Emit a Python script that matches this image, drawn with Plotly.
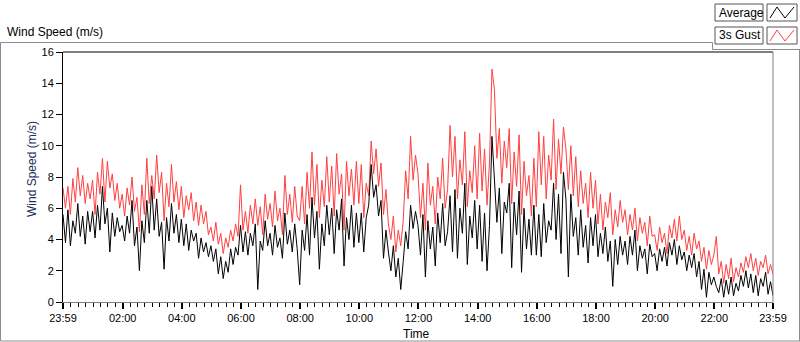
import pandas as pd
import plotly.graph_objects as go

# ---------------- data (5-minute samples, m/s) ----------------
gust = [
    7.3, 6.0, 7.4, 5.6, 7.9, 6.4, 8.6, 6.8, 8.1, 6.3, 7.6, 6.6,
    7.8, 5.6, 8.3, 6.9, 9.2, 6.4, 9.0, 7.3, 8.2, 6.5, 7.6, 6.0,
    6.9, 5.5, 7.3, 6.2, 8.0, 5.8, 6.7, 4.5, 7.5, 5.6, 9.2, 6.3,
    8.1, 6.6, 9.4, 7.0, 8.3, 5.2, 7.6, 6.1, 8.8, 6.4, 7.7, 5.9,
    7.4, 5.4, 6.8, 5.9, 7.0, 5.2, 6.4, 4.9, 6.2, 5.0, 5.8, 4.3,
    4.8, 3.9, 5.1, 3.7, 4.4, 3.1, 4.1, 3.5, 4.6, 3.9, 5.0, 4.2,
    7.5, 4.6, 5.8, 4.4, 6.2, 5.0, 6.6, 4.9, 6.1, 4.3, 6.9, 5.3,
    6.3, 4.8, 7.1, 5.2, 6.0, 4.3, 8.1, 5.6, 6.9, 5.1, 7.4, 5.5,
    5.2, 7.4, 5.0, 8.3, 6.0, 9.6, 6.2, 8.8, 5.4, 7.8, 6.1, 9.3,
    6.4, 8.7, 5.5, 9.5, 6.9, 8.2, 4.6, 9.0, 6.8, 8.5, 6.2, 9.0,
    6.3, 8.8, 5.4, 7.6, 6.8, 10.3, 8.2, 9.8, 7.4, 8.9, 5.6, 7.2,
    5.0, 4.0, 5.5, 3.2, 4.6, 3.6, 5.2, 8.4, 6.6, 10.6, 7.8, 9.4,
    8.2, 5.4, 7.6, 4.6, 8.9, 6.2, 7.4, 5.0, 8.0, 6.6, 9.2, 6.0,
    7.2, 11.3, 8.0, 10.6, 6.6, 9.1, 7.5, 10.9, 6.1, 8.4, 7.0, 10.0,
    6.6, 10.8, 7.1, 9.8, 6.2, 8.9, 14.9, 13.6, 9.2, 11.1, 7.6, 10.3,
    8.6, 11.1, 6.3, 9.6, 7.4, 10.7, 5.6, 9.0, 6.8, 8.1, 5.5, 9.2,
    6.1, 10.9, 7.5, 10.6, 6.6, 9.4, 7.8, 11.7, 7.2, 10.4, 8.2, 11.2,
    9.8, 7.2, 10.0, 6.8, 9.3, 6.1, 8.4, 6.3, 7.6, 5.4, 8.3, 6.0,
    7.8, 5.0, 6.9, 4.6, 6.4, 5.4, 7.0, 4.3, 5.9, 4.8, 6.5, 5.1,
    5.9, 4.3, 5.6, 4.6, 6.0, 3.9, 5.4, 4.4, 5.1, 3.6, 5.5, 4.2,
    4.3, 3.3, 4.8, 3.8, 4.4, 3.1, 4.9, 4.1, 5.3, 3.9, 5.5, 4.0,
    4.6, 3.3, 4.2, 3.0, 4.4, 3.4, 3.9, 2.6, 3.5, 2.1, 3.3, 2.4,
    3.0, 4.2, 1.8, 2.6, 1.2, 2.4, 1.5, 2.8, 1.3, 2.2, 1.6, 2.5,
    1.9, 2.9, 2.2, 3.1, 2.0, 2.8, 1.7, 2.6, 2.2, 3.0, 1.8, 2.4,
    1.8,
]

average = [
    5.6, 3.8, 5.9, 3.6, 5.2, 4.4, 6.3, 4.2, 5.5, 3.7, 5.8, 4.5,
    5.8, 4.1, 6.2, 4.6, 7.4, 5.0, 6.0, 3.2, 5.7, 4.2, 5.4, 4.5,
    4.9, 3.9, 5.5, 4.4, 6.5, 3.6, 4.8, 2.0, 5.2, 3.8, 6.5, 4.4,
    7.4, 4.6, 6.6, 4.2, 5.1, 2.1, 5.4, 3.9, 6.3, 4.4, 5.6, 3.8,
    5.3, 3.6, 5.0, 3.3, 4.6, 3.9, 4.4, 2.8, 4.1, 3.2, 3.8, 2.9,
    3.6, 2.6, 3.4, 1.8, 2.9, 1.5, 2.6, 1.9, 3.4, 2.4, 3.5, 3.0,
    4.9, 3.2, 4.5, 3.0, 4.4, 3.6, 5.0, 0.8, 3.9, 3.3, 5.2, 3.6,
    4.4, 3.0, 4.9, 3.5, 4.1, 2.8, 5.7, 3.7, 4.6, 3.2, 5.0, 3.4,
    1.1, 4.6, 3.3, 5.6, 3.0, 6.7, 4.1, 5.8, 2.1, 5.0, 3.6, 6.2,
    4.3, 6.0, 3.1, 5.9, 4.6, 6.6, 2.3, 5.4, 4.0, 6.2, 3.5, 5.7,
    3.8, 5.7, 3.2, 5.4, 6.2, 8.8, 6.7, 7.5, 5.5, 6.5, 2.8, 4.6,
    3.2, 2.0, 3.6, 1.6, 2.8, 0.8, 2.6, 4.5, 3.4, 6.2, 4.7, 5.8,
    4.9, 3.0, 5.6, 1.6, 5.2, 3.4, 4.8, 2.3, 5.7, 3.8, 6.3, 3.6,
    4.5, 6.8, 3.2, 7.2, 2.8, 6.0, 4.4, 7.6, 2.4, 5.5, 4.1, 6.5,
    3.4, 6.2, 2.6, 5.7, 2.0, 4.9, 10.6, 7.4, 5.1, 7.3, 3.1, 6.4,
    5.7, 7.6, 2.2, 6.4, 4.3, 7.1, 1.9, 6.0, 3.4, 5.3, 3.0, 6.2,
    3.0, 5.6, 2.9, 6.3, 3.8, 5.2, 4.6, 7.6, 4.0, 6.9, 3.1, 8.3,
    6.6, 1.6, 6.9, 4.2, 5.4, 3.0, 5.9, 3.5, 4.9, 2.5, 5.4, 3.6,
    5.6, 2.9, 4.4, 3.1, 4.8, 2.6, 3.9, 1.0, 4.0, 2.4, 4.2, 3.0,
    3.9, 2.4, 4.2, 3.0, 4.6, 2.0, 3.6, 2.8, 3.4, 1.8, 3.7, 2.9,
    3.1, 2.0, 3.4, 2.6, 3.5, 2.3, 3.8, 3.0, 4.0, 2.4, 3.6, 2.7,
    3.2, 2.0, 3.0, 2.2, 3.1, 1.6, 2.6, 0.8, 2.1, 0.3, 1.9, 1.1,
    1.6, 1.0, 0.6, 1.5, 0.3, 1.4, 0.5, 1.6, 0.4, 1.2, 0.7, 1.7,
    1.0, 2.0, 0.9, 1.8, 0.6, 1.7, 0.4, 1.5, 1.0, 1.9, 0.5, 1.3,
    0.4,
]

start_time = "2024-01-01 23:59"
end_time = "2024-01-02 23:59"
tick_times = ["2024-01-01 23:59", "2024-01-02 02:00", "2024-01-02 04:00",
              "2024-01-02 06:00", "2024-01-02 08:00", "2024-01-02 10:00",
              "2024-01-02 12:00", "2024-01-02 14:00", "2024-01-02 16:00",
              "2024-01-02 18:00", "2024-01-02 20:00", "2024-01-02 22:00",
              "2024-01-02 23:59"]
tick_labels = ["23:59", "02:00", "04:00", "06:00", "08:00", "10:00", "12:00",
               "14:00", "16:00", "18:00", "20:00", "22:00", "23:59"]
y_ticks = [0, 2, 4, 6, 8, 10, 12, 14, 16]

time = pd.date_range(start_time, periods=len(gust), freq="5min")

# ---------------- geometry helpers ----------------
W, H = 800, 342
L, R, T, B = 63, 27, 52, 40
PW, PH = W - L - R, H - T - B
FONT = "Liberation Sans"


def px(x):
    return (x - L) / PW


def py(y):
    return (H - B - y) / PH


fig = go.Figure()
fig.add_trace(go.Scatter(x=time, y=gust, mode="lines", name="3s Gust",
                         line=dict(color="#ff4040", width=1)))
fig.add_trace(go.Scatter(x=time, y=average, mode="lines", name="Average",
                         line=dict(color="#000000", width=1)))

fig.update_layout(
    width=W, height=H,
    margin=dict(l=L, r=R, t=T, b=B, pad=0),
    paper_bgcolor="white", plot_bgcolor="white",
    showlegend=False,
    font=dict(family=FONT, size=11, color="black"),
    xaxis=dict(
        type="date", range=[start_time, end_time],
        tickmode="array", tickvals=tick_times, ticktext=tick_labels,
        ticks="outside", ticklen=6, tickwidth=2, tickcolor="black",
        showline=True, linecolor="#808080", linewidth=1,
        showgrid=False, zeroline=False,
        tickfont=dict(family=FONT, size=11, color="black"),
        minor=dict(tickmode="linear", tick0="2024-01-02 00:00", dtick=900000,
                   ticks="outside", ticklen=4, tickwidth=1, tickcolor="black",
                   showgrid=False),
    ),
    yaxis=dict(
        range=[0, 16], tickmode="array", tickvals=y_ticks,
        ticks="outside", ticklen=6, tickwidth=1, tickcolor="black",
        showline=True, linecolor="black", linewidth=1,
        showgrid=False, zeroline=False,
        tickfont=dict(family=FONT, size=11, color="black"),
    ),
)

shapes = []
gray = "#8c8c8c"
# plot area top (black) and right (gray) border
shapes.append(dict(type="line", xref="paper", yref="paper", x0=0, x1=1, y0=1, y1=1,
                   line=dict(color="black", width=1)))
shapes.append(dict(type="line", xref="paper", yref="paper", x0=1, x1=1, y0=0, y1=1,
                   line=dict(color="#808080", width=1)))
# outer frame
frame = [((0.5, 42.5), (712.5, 42.5)), ((712.5, 42.5), (712.5, 49.5)),
         ((712.5, 49.5), (800, 49.5)), ((0.5, 42.5), (0.5, 341)),
         ((0.5, 341), (800, 341)), ((799.5, 49.5), (799.5, 341))]
for (xa, ya), (xb, yb) in frame:
    shapes.append(dict(type="line", xref="paper", yref="paper",
                       x0=px(xa), y0=py(ya), x1=px(xb), y1=py(yb),
                       line=dict(color=gray, width=1)))

# legend boxes
legend_items = [("Average", "#000000", 4), ("3s Gust", "#ff4040", 27)]
annotations = []
for label, color, top in legend_items:
    bot = top + 17
    shapes.append(dict(type="rect", xref="paper", yref="paper",
                       x0=px(715), x1=px(763), y0=py(bot), y1=py(top),
                       line=dict(color="#555555", width=1), fillcolor="white"))
    shapes.append(dict(type="rect", xref="paper", yref="paper",
                       x0=px(767), x1=px(797), y0=py(bot), y1=py(top),
                       line=dict(color="#555555", width=1), fillcolor="white"))
    pts = [(770, bot - 3), (777, top + 3), (785, bot - 3), (794, top + 3)]
    path = "M " + " L ".join(f"{px(a):.5f} {py(b):.5f}" for a, b in pts)
    shapes.append(dict(type="path", xref="paper", yref="paper", path=path,
                       line=dict(color=color, width=1)))
    annotations.append(dict(text=label, xref="paper", yref="paper",
                            x=px(717), y=py(top + 8.5), xanchor="left", yanchor="middle",
                            showarrow=False, font=dict(family=FONT, size=12, color="black")))

annotations.append(dict(text="Wind Speed (m/s)", xref="paper", yref="paper",
                        x=px(5), y=py(32), xanchor="left", yanchor="middle",
                        showarrow=False, font=dict(family=FONT, size=12, color="black")))
annotations.append(dict(text="Wind Speed (m/s)", xref="paper", yref="paper",
                        x=px(32), y=py(169), xanchor="center", yanchor="middle",
                        textangle=-90, showarrow=False,
                        font=dict(family=FONT, size=12, color="#1a2f5a")))
annotations.append(dict(text="Time", xref="paper", yref="paper",
                        x=px(416), y=py(334), xanchor="center", yanchor="middle",
                        showarrow=False, font=dict(family=FONT, size=12, color="black")))

fig.update_layout(shapes=shapes, annotations=annotations)
fig.write_html("out.html",
               config={"displayModeBar": False},
               post_script="document.body.style.margin='0';document.body.style.overflow='hidden';")
